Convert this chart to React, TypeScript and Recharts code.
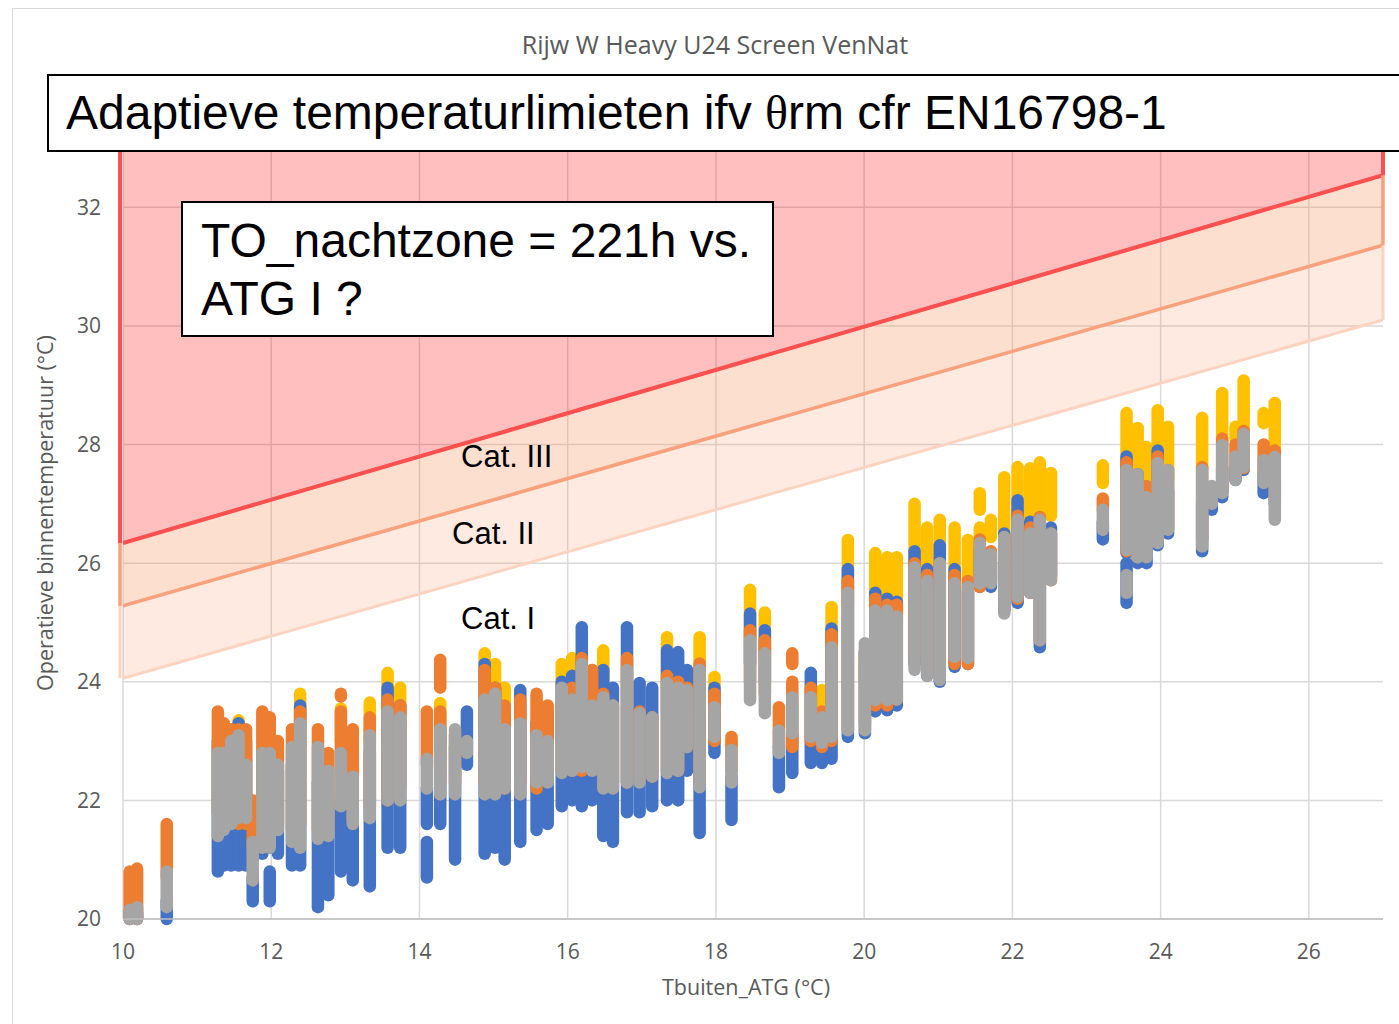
import React from "react";
import { ComposedChart, Area, XAxis, YAxis, CartesianGrid, ReferenceLine } from "recharts";

// Adaptive limit lines (EN16798-1)
const bandX = [10, 27];
const catI = [24.06, 30.1];
const catII = [25.28, 31.36];
const catIII = [26.34, 32.54];
const yTop = 33;

const xTicks = [10, 12, 14, 16, 18, 20, 22, 24, 26];
const yTicks = [20, 22, 24, 26, 28, 30, 32];

// Measured columns of hourly points: [Trm, lowest, highest]
const yellowRanges: [number, number, number][] = [
  [11.56, 22.5, 23.35], [12.39, 22.9, 23.8], [12.94, 23.0, 23.55], [13.33, 23.0, 23.65], [13.57, 23.5, 24.15],
  [13.74, 23.2, 23.9], [14.28, 23.0, 23.64], [14.88, 23.5, 24.48], [15.02, 23.5, 24.3], [15.15, 23.2, 23.9],
  [15.92, 23.0, 24.3], [16.06, 23.5, 24.4], [16.33, 23.6, 24.2], [16.48, 23.6, 24.53], [17.34, 23.5, 24.75],
  [17.78, 23.5, 24.75], [17.98, 23.3, 24.08], [18.21, 22.8, 23.0], [18.46, 24.7, 25.55], [18.66, 24.4, 25.17],
  [19.43, 23.2, 23.86], [19.56, 24.3, 25.26], [19.78, 25.3, 26.39], [20.01, 24.0, 24.4], [20.15, 25.0, 26.17],
  [20.31, 25.0, 26.1], [20.44, 25.0, 26.1], [20.68, 25.6, 27.0], [20.85, 25.6, 26.6], [21.02, 25.6, 26.73],
  [21.22, 25.3, 26.6], [21.4, 25.5, 26.39], [21.56, 26.9, 27.18], [21.56, 26.3, 26.6], [21.71, 26.44, 26.73],
  [21.89, 26.4, 27.45], [22.07, 26.2, 27.62], [22.24, 26.4, 27.6], [22.37, 26.5, 27.7], [22.52, 26.8, 27.52],
  [23.22, 27.35, 27.65], [23.54, 27.5, 28.53], [23.69, 27.5, 28.28], [23.81, 27.4, 27.96], [23.96, 27.4, 28.58],
  [24.1, 27.4, 28.3], [24.56, 27.6, 28.45], [24.83, 28.0, 28.87], [25.01, 28.1, 28.3], [25.12, 28.2, 29.08],
  [25.39, 28.36, 28.53], [25.54, 27.96, 28.7],
];

const blueRanges: [number, number, number][] = [
  [10.09, 20.0, 20.1], [10.19, 20.0, 20.1], [10.59, 20.0, 20.3], [11.28, 20.8, 23.0], [11.36, 20.9, 22.9],
  [11.46, 20.9, 23.0], [11.56, 20.9, 23.3], [11.66, 20.9, 23.0], [11.75, 20.3, 20.7], [11.88, 21.1, 22.8],
  [11.98, 20.3, 20.8], [11.98, 21.2, 22.5], [12.09, 21.1, 22.5], [12.28, 20.9, 22.6], [12.39, 20.9, 23.6],
  [12.63, 20.2, 22.3], [12.77, 20.4, 22.0], [12.94, 20.8, 21.8], [13.1, 20.65, 21.8], [13.33, 20.55, 22.8],
  [13.57, 21.2, 23.9], [13.74, 21.2, 23.6], [14.1, 20.7, 21.3], [14.1, 21.6, 22.2], [14.28, 21.6, 23.2],
  [14.48, 21.0, 22.9], [14.64, 22.6, 23.5], [14.88, 21.1, 24.3], [15.02, 21.2, 23.9], [15.15, 21.0, 23.4],
  [15.36, 21.3, 23.86], [15.58, 21.5, 23.3], [15.73, 21.6, 23.5], [15.92, 21.9, 24.0], [16.06, 22.0, 24.1],
  [16.19, 21.9, 24.92], [16.33, 22.0, 23.8], [16.48, 21.4, 24.2], [16.61, 21.3, 23.9], [16.8, 21.8, 24.92],
  [16.97, 21.8, 23.98], [17.14, 21.9, 23.9], [17.34, 22.0, 24.53], [17.49, 22.0, 24.5], [17.61, 22.5, 24.2],
  [17.78, 21.45, 24.2], [17.98, 22.8, 23.9], [18.21, 21.67, 22.4], [18.46, 24.3, 25.15], [18.66, 24.0, 24.87],
  [18.85, 22.22, 22.9], [19.03, 22.46, 23.1], [19.28, 22.63, 24.15], [19.43, 22.63, 23.3], [19.56, 22.7, 24.9],
  [19.78, 23.07, 25.9], [20.01, 23.13, 24.5], [20.15, 23.5, 25.5], [20.31, 23.52, 25.4], [20.44, 23.6, 25.35],
  [20.68, 24.3, 26.2], [20.85, 24.1, 25.9], [21.02, 24.0, 26.3], [21.22, 24.25, 25.9], [21.4, 24.3, 25.5],
  [21.56, 25.6, 26.2], [21.71, 25.6, 26.0], [21.89, 25.2, 26.5], [22.07, 25.33, 27.06], [22.24, 25.5, 26.7],
  [22.37, 24.58, 26.5], [22.52, 25.8, 26.6], [23.22, 26.4, 26.7], [23.54, 26.17, 27.8], [23.54, 25.33, 26.0],
  [23.69, 26.0, 27.5], [23.81, 26.0, 27.0], [23.96, 26.3, 27.9], [24.1, 26.5, 27.2], [24.56, 26.2, 27.0],
  [24.69, 26.9, 27.1], [24.83, 27.11, 27.6], [25.01, 27.4, 27.6], [25.12, 27.57, 27.9], [25.39, 27.18, 27.5],
  [25.54, 27.0, 27.4],
];

const orangeRanges: [number, number, number][] = [
  [10.09, 20.0, 20.8], [10.19, 20.0, 20.85], [10.59, 20.7, 21.6], [11.28, 21.8, 23.5], [11.36, 21.6, 23.3],
  [11.46, 21.7, 23.2], [11.56, 21.6, 23.2], [11.66, 21.6, 23.2], [11.75, 21.2, 22.0], [11.88, 21.8, 23.5],
  [11.98, 21.5, 23.4], [12.09, 21.6, 23.0], [12.28, 21.5, 23.2], [12.39, 21.6, 23.5], [12.63, 21.5, 23.2],
  [12.77, 21.5, 22.8], [12.94, 22.0, 23.5], [12.94, 23.75, 23.8], [13.1, 21.7, 23.2], [13.33, 21.9, 23.4],
  [13.57, 22.0, 23.7], [13.74, 22.2, 23.6], [14.1, 22.6, 23.5], [14.28, 22.3, 23.5], [14.28, 23.9, 24.37],
  [14.48, 22.3, 23.1], [14.88, 22.3, 24.2], [15.02, 22.4, 23.9], [15.15, 22.2, 23.6], [15.36, 22.3, 23.7],
  [15.58, 22.2, 23.8], [15.73, 22.4, 23.6], [15.92, 22.5, 23.6], [16.06, 22.5, 23.9], [16.19, 22.5, 24.4],
  [16.33, 22.8, 24.2], [16.48, 22.4, 23.8], [16.61, 22.3, 23.6], [16.8, 22.3, 24.4], [16.97, 22.4, 23.5],
  [17.14, 22.4, 23.4], [17.34, 22.5, 24.1], [17.49, 22.5, 24.0], [17.61, 22.9, 23.9], [17.78, 22.3, 24.31],
  [17.98, 23.0, 23.8], [18.21, 22.5, 23.07], [18.46, 24.0, 24.87], [18.66, 23.8, 24.7], [18.85, 22.9, 23.57],
  [19.03, 22.9, 24.0], [19.03, 24.3, 24.48], [19.28, 23.0, 23.9], [19.43, 22.9, 23.5], [19.56, 23.0, 24.8],
  [19.78, 23.2, 25.7], [20.01, 23.3, 24.5], [20.15, 23.6, 25.4], [20.31, 23.6, 25.3], [20.44, 23.7, 25.3],
  [20.68, 24.4, 26.0], [20.85, 24.2, 25.8], [21.02, 24.1, 26.0], [21.22, 24.3, 25.8], [21.4, 24.3, 25.7],
  [21.56, 25.6, 26.4], [21.71, 25.7, 26.2], [21.89, 25.2, 26.44], [22.07, 25.4, 26.8], [22.24, 25.5, 26.6],
  [22.37, 24.7, 26.78], [22.52, 25.71, 26.5], [23.22, 26.9, 27.09], [23.54, 26.2, 27.7], [23.69, 26.1, 27.4],
  [23.81, 26.5, 27.3], [23.96, 26.4, 27.8], [24.1, 26.6, 27.57], [24.56, 26.4, 27.62], [24.83, 27.2, 28.1],
  [25.01, 27.6, 28.0], [25.12, 27.6, 28.23], [25.39, 27.5, 28.0], [25.54, 27.1, 27.9],
];

const grayRanges: [number, number, number][] = [
  [10.09, 20.0, 20.15], [10.19, 20.0, 20.2], [10.59, 20.2, 20.8], [11.28, 21.4, 22.8], [11.36, 21.5, 22.8],
  [11.46, 21.6, 23.0], [11.56, 21.7, 23.1], [11.66, 21.7, 22.6], [11.75, 20.65, 21.3], [11.88, 21.2, 22.8],
  [11.98, 21.2, 22.8], [12.09, 21.5, 22.6], [12.28, 21.3, 22.9], [12.39, 21.2, 23.3], [12.63, 21.35, 22.9],
  [12.77, 21.4, 22.5], [12.94, 21.9, 22.8], [13.1, 21.6, 22.4], [13.33, 21.7, 23.1], [13.57, 22.0, 23.5],
  [13.74, 22.0, 23.4], [14.1, 22.2, 22.7], [14.28, 22.1, 23.2], [14.48, 22.1, 23.2], [14.64, 22.8, 23.0],
  [14.88, 22.1, 23.7], [15.02, 22.1, 23.8], [15.15, 22.2, 23.2], [15.36, 22.1, 23.3], [15.58, 22.3, 23.1],
  [15.73, 22.3, 23.0], [15.92, 22.46, 23.9], [16.06, 22.5, 23.7], [16.19, 22.56, 24.3], [16.33, 22.5, 23.6],
  [16.48, 22.2, 23.74], [16.61, 22.2, 23.6], [16.8, 22.3, 24.2], [16.97, 22.3, 23.47], [17.14, 22.4, 23.4],
  [17.34, 22.46, 23.98], [17.49, 22.5, 23.9], [17.61, 22.9, 23.86], [17.78, 22.22, 24.2], [17.98, 23.07, 23.57],
  [18.21, 22.3, 22.85], [18.46, 23.69, 24.7], [18.66, 23.47, 24.48], [18.85, 22.8, 23.18], [19.03, 23.13, 23.74],
  [19.28, 23.07, 23.74], [19.43, 22.97, 23.4], [19.56, 23.07, 24.58], [19.78, 23.18, 25.5], [20.01, 23.18, 24.65],
  [20.15, 23.69, 25.2], [20.31, 23.69, 25.2], [20.44, 23.7, 25.1], [20.68, 24.2, 25.93], [20.85, 24.1, 25.7],
  [21.02, 24.03, 26.0], [21.22, 24.42, 25.66], [21.4, 24.4, 25.6], [21.56, 25.66, 26.34], [21.71, 25.66, 26.15],
  [21.89, 25.15, 26.44], [22.07, 25.43, 26.73], [22.24, 25.5, 26.5], [22.37, 24.7, 26.73], [22.52, 25.71, 26.5],
  [23.22, 26.56, 26.9], [23.54, 26.22, 27.57], [23.54, 25.5, 25.8], [23.69, 26.1, 27.5], [23.81, 26.1, 27.11],
  [23.96, 26.34, 27.69], [24.1, 26.56, 27.57], [24.56, 26.28, 27.57], [24.69, 27.0, 27.3], [24.83, 27.18, 27.99],
  [25.01, 27.4, 27.8], [25.12, 27.62, 28.18], [25.39, 27.35, 27.74], [25.54, 26.73, 27.79],
];

const seriesList = [
  { name: "yellow", color: "#FFC000", data: yellowRanges },
  { name: "blue", color: "#4472C4", data: blueRanges },
  { name: "orange", color: "#ED7D31", data: orangeRanges },
  { name: "gray", color: "#A5A5A5", data: grayRanges },
];

const bandData = bandX.map((x, i) => ({ x, c1: catI[i], c2: catII[i], c3: catIII[i], top: yTop }));

const bands = [
  { key: "b1", lo: catI, hi: catII, fill: "rgba(248,150,100,0.2)", stroke: "#FCD3C0", width: 3, get: (d: any) => [d.c1, d.c2] },
  { key: "b2", lo: catII, hi: catIII, fill: "rgba(248,150,100,0.3)", stroke: "#F9A07C", width: 3.5, get: (d: any) => [d.c2, d.c3] },
  { key: "b3", lo: catIII, hi: [yTop, yTop], fill: "rgba(255,0,0,0.25)", stroke: "#FF5050", width: 4, get: (d: any) => [d.c3, d.top] },
];

const axisFont = { fontFamily: "Open Sans", fontSize: 21, fill: "#595959" };

export default function App() {
  return (
    <div style={{ position: "absolute", left: 0, top: 0, width: 1399, height: 1024, background: "#fff", overflow: "hidden" }}>
      <div style={{ position: "absolute", left: 12, top: 8, width: 1420, height: 1040, border: "1.5px solid #D9D9D9", boxSizing: "border-box" }} />
      <div style={{ position: "absolute", left: 0, top: 0 }}>
        <ComposedChart width={1399} height={1024} data={bandData} margin={{ top: 148, right: 16, bottom: 0, left: 0 }}>
          <CartesianGrid stroke="#D9D9D9" strokeWidth={1.5} horizontalValues={yTicks} verticalValues={xTicks} />
          <XAxis
            type="number"
            dataKey="x"
            domain={[10, 27]}
            ticks={xTicks}
            allowDataOverflow
            height={105}
            tickLine={false}
            axisLine={{ stroke: "#BFBFBF", strokeWidth: 1.5 }}
            tickMargin={19}
            tick={axisFont}
          />
          <YAxis
            type="number"
            domain={[20, 33]}
            ticks={yTicks}
            allowDataOverflow
            width={123}
            tickLine={false}
            axisLine={false}
            tickMargin={16}
            tick={axisFont}
          />
          {bands.map((b) => (
            <Area
              key={b.key}
              type="linear"
              dataKey={b.get}
              fill={b.fill}
              fillOpacity={1}
              stroke={b.stroke}
              strokeWidth={b.width}
              dot={false}
              activeDot={false}
              isAnimationActive={false}
            />
          ))}
          {bands.map((b) =>
            bandX.map((x, i) => (
              <ReferenceLine
                key={b.key + "-edge-" + i}
                segment={[{ x: i === 0 ? x - 0.04 : x, y: b.lo[i] }, { x: i === 0 ? x - 0.04 : x, y: b.hi[i] }]}
                stroke={b.stroke}
                strokeWidth={b.width}
                ifOverflow="visible"
              />
            ))
          )}
          {seriesList.map((s) =>
            s.data.map(([x, lo, hi], i) => (
              <ReferenceLine
                key={s.name + i}
                segment={[{ x, y: lo }, { x, y: hi === lo ? hi + 0.01 : hi }]}
                stroke={s.color}
                strokeWidth={12.5}
                strokeLinecap="round"
                ifOverflow="visible"
              />
            ))
          )}
        </ComposedChart>
      </div>
      {/* chart title */}
      <div style={{ position: "absolute", left: 0, width: 1430, top: 28, textAlign: "center", fontFamily: "Open Sans", fontSize: 25, color: "#595959", lineHeight: "32px" }}>
        Rijw W Heavy U24 Screen VenNat
      </div>
      {/* axis titles */}
      <div style={{ position: "absolute", left: 346, width: 800, top: 972, textAlign: "center", fontFamily: "Open Sans", fontSize: 21.5, color: "#595959", lineHeight: "30px" }}>
        Tbuiten_ATG (°C)
      </div>
      <div style={{ position: "absolute", left: 45 - 300, width: 600, top: 513 - 15, height: 30, textAlign: "center", fontFamily: "Open Sans", fontSize: 21.5, color: "#595959", lineHeight: "30px", transform: "rotate(-90deg)" }}>
        Operatieve binnentemperatuur (°C)
      </div>
      {/* annotation boxes */}
      <div style={{ position: "absolute", left: 47, top: 74, width: 1380, height: 78, border: "2px solid #000", background: "#fff", boxSizing: "border-box" }}>
        <div style={{ position: "absolute", left: 17, top: 9, fontFamily: "Liberation Sans", fontSize: 48, lineHeight: "56px", color: "#000", whiteSpace: "nowrap" }}>
          Adaptieve temperaturlimieten ifv <span style={{ fontFamily: "Liberation Serif" }}>θ</span>rm cfr EN16798-1
        </div>
      </div>
      <div style={{ position: "absolute", left: 181, top: 201, width: 593, height: 136, border: "2px solid #000", background: "#fff", boxSizing: "border-box" }}>
        <div style={{ position: "absolute", left: 18, top: 9, fontFamily: "Liberation Sans", fontSize: 48, lineHeight: "58px", color: "#000", whiteSpace: "nowrap" }}>
          TO_nachtzone = 221h vs.<br />ATG I ?
        </div>
      </div>
      {/* category labels */}
      <div style={{ position: "absolute", left: 461, top: 438, fontFamily: "Liberation Sans", fontSize: 31, lineHeight: "38px", color: "#000" }}>Cat. III</div>
      <div style={{ position: "absolute", left: 452, top: 515, fontFamily: "Liberation Sans", fontSize: 31, lineHeight: "38px", color: "#000" }}>Cat. II</div>
      <div style={{ position: "absolute", left: 461, top: 600, fontFamily: "Liberation Sans", fontSize: 31, lineHeight: "38px", color: "#000" }}>Cat. I</div>
    </div>
  );
}
